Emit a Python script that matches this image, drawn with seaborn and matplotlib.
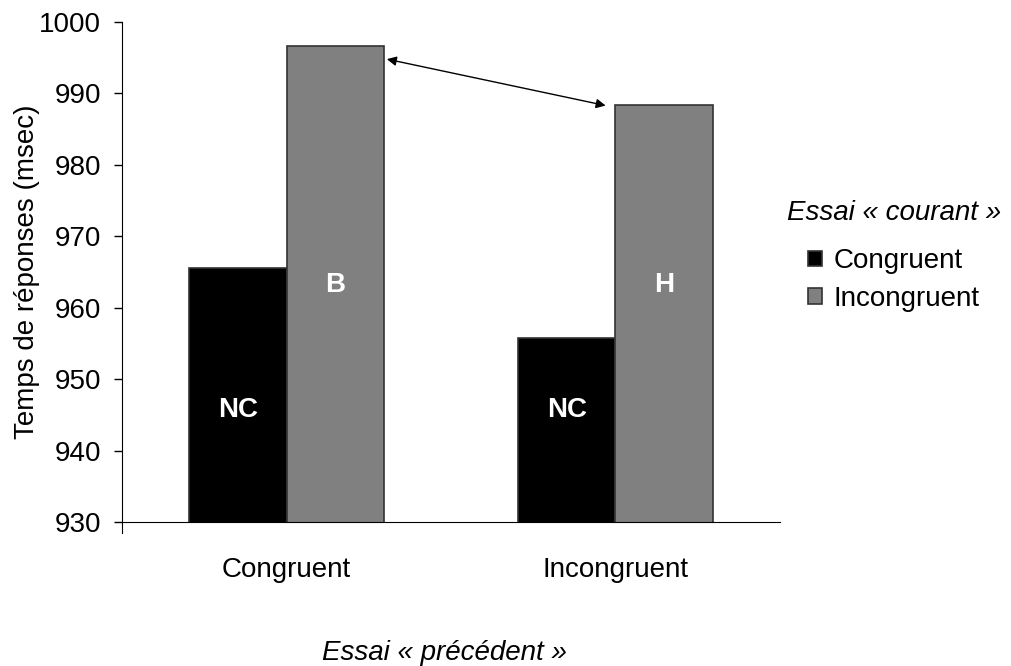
import pandas as pd
import matplotlib
matplotlib.use('Agg')
import matplotlib.pyplot as plt
import seaborn as sns

# essai précédent (x) / essai courant (hue)
previous = ['Congruent', 'Congruent', 'Incongruent', 'Incongruent']
current = ['Congruent', 'Incongruent', 'Congruent', 'Incongruent']
rt = [965.5, 996.6, 955.8, 988.4]
bar_labels = ['NC', 'B', 'NC', 'H']

df = pd.DataFrame({'prev': previous, 'cur': current, 'rt': rt})

sns.set_style('white')
plt.rcParams['font.family'] = ['Liberation Sans', 'DejaVu Sans']
plt.rcParams['text.color'] = 'black'
plt.rcParams['axes.labelcolor'] = 'black'
plt.rcParams['xtick.color'] = 'black'
plt.rcParams['ytick.color'] = 'black'
FS = 20

fig = plt.figure(figsize=(10.11, 6.66), dpi=100)
ax = fig.add_axes([0.1207, 0.2162, 0.6508, 0.7508])

sns.barplot(data=df, x='prev', y='rt', hue='cur',
            palette={'Congruent': '#000000', 'Incongruent': '#808080'},
            width=0.59, gap=0, edgecolor='#333333', linewidth=1.2,
            errorbar=None, ax=ax)

ax.set_ylim(930, 1000)
ax.set_xlim(-0.5, 1.5)
ax.set_yticks(range(930, 1001, 10))
ax.tick_params(axis='y', labelsize=FS, length=6, width=1, direction='out', left=True, pad=9)
ax.tick_params(axis='x', labelsize=FS, length=0, pad=25)
for s in ['top', 'right']:
    ax.spines[s].set_visible(False)
ax.spines['left'].set_color('black')
ax.spines['bottom'].set_color('black')
ax.spines['left'].set_bounds(928.5, 1000)

ax.set_xlabel('Essai « précédent »', fontsize=FS, style='italic')
ax.xaxis.set_label_coords(0.49, -0.236)
ax.set_ylabel('Temps de réponses (msec)', fontsize=FS)
ax.yaxis.set_label_coords(-0.125, 0.5)

# lettres dans les barres
patches = [p for p in ax.patches if p.get_height() > 0]
order = sorted(patches, key=lambda p: p.get_x())
label_y = [945.7, 963.2, 945.7, 963.2]
for p, lab, yy in zip(order, bar_labels, label_y):
    ax.text(p.get_x() + p.get_width() / 2, yy, lab, color='white',
            fontsize=FS, fontweight='bold', ha='center', va='center')

ax.annotate('', xy=(0.305, 994.8), xytext=(0.97, 988.3),
            arrowprops=dict(arrowstyle='<|-|>', color='black', lw=1,
                            mutation_scale=14, shrinkA=0, shrinkB=0))

ax.legend_.remove()
handles = [plt.Rectangle((0, 0), 1, 1, facecolor=c, edgecolor='#333333', lw=1.2)
           for c in ['#000000', '#808080']]
leg = fig.legend(handles, ['Congruent', 'Incongruent'], loc='upper left',
                 bbox_to_anchor=(0.799, 0.627), frameon=False, fontsize=FS,
                 handlelength=0.5, handleheight=0.5, handletextpad=0.43,
                 labelspacing=0.42, borderaxespad=0, borderpad=0)
fig.text(0.778, 0.68, 'Essai « courant »', fontsize=FS, style='italic',
         ha='left', va='center')

fig.savefig('out.png', dpi=100)
